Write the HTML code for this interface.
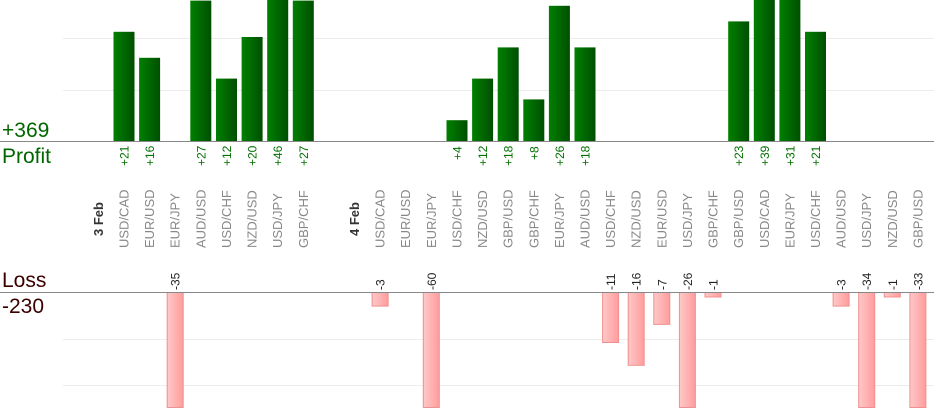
<!DOCTYPE html>
<html><head><meta charset="utf-8"><style>body{margin:0;background:#fff}svg{display:block}
.c{font-size:13px;fill:#888}.d{font-size:13px;font-weight:bold;fill:#333}.p{font-size:12px;fill:#007000}.l{font-size:12px;fill:#222}
</style></head><body>
<svg width="934" height="420" xmlns="http://www.w3.org/2000/svg" font-family="Liberation Sans, sans-serif">
<defs>
<linearGradient id="g" x1="0" x2="1"><stop offset="0" stop-color="#008000"/><stop offset="1" stop-color="#004f00"/></linearGradient>
<linearGradient id="r" x1="0" x2="1"><stop offset="0" stop-color="#ffc8c8"/><stop offset="1" stop-color="#ff9c9c"/></linearGradient>
</defs>
<g stroke="#ececec" stroke-width="1">
<line x1="63" y1="38.5" x2="934" y2="38.5"/><line x1="63" y1="90.5" x2="934" y2="90.5"/>
<line x1="63" y1="339.5" x2="934" y2="339.5"/><line x1="63" y1="385.5" x2="934" y2="385.5"/>
</g>
<g fill="url(#g)">
<rect x="113.5" y="31.8" width="21" height="109.2"/>
<rect x="139.1" y="57.8" width="21" height="83.2"/>
<rect x="190.3" y="0.6" width="21" height="140.4"/>
<rect x="216" y="78.6" width="21" height="62.4"/>
<rect x="241.6" y="37" width="21" height="104"/>
<rect x="267.2" y="0" width="21" height="141"/>
<rect x="292.8" y="0.6" width="21" height="140.4"/>
<rect x="446.5" y="120.2" width="21" height="20.8"/>
<rect x="472.1" y="78.6" width="21" height="62.4"/>
<rect x="497.7" y="47.4" width="21" height="93.6"/>
<rect x="523.3" y="99.4" width="21" height="41.6"/>
<rect x="548.9" y="5.8" width="21" height="135.2"/>
<rect x="574.5" y="47.4" width="21" height="93.6"/>
<rect x="728.2" y="21.4" width="21" height="119.6"/>
<rect x="753.8" y="0" width="21" height="141"/>
<rect x="779.4" y="0" width="21" height="141"/>
<rect x="805" y="31.8" width="21" height="109.2"/>
</g>
<g fill="url(#r)" stroke="#f09090">
<rect x="167.2" y="292.5" width="16" height="115"/>
<rect x="372.1" y="292.5" width="16" height="13.6"/>
<rect x="423.3" y="292.5" width="16" height="115"/>
<rect x="602.6" y="292.5" width="16" height="50"/>
<rect x="628.2" y="292.5" width="16" height="72.8"/>
<rect x="653.8" y="292.5" width="16" height="31.9"/>
<rect x="679.4" y="292.5" width="16" height="115"/>
<rect x="705" y="292.5" width="16" height="4.5"/>
<rect x="833.1" y="292.5" width="16" height="13.6"/>
<rect x="858.7" y="292.5" width="16" height="115"/>
<rect x="884.3" y="292.5" width="16" height="4.5"/>
<rect x="909.9" y="292.5" width="16" height="115"/>
</g>
<line x1="0" y1="141.5" x2="934" y2="141.5" stroke="#888"/>
<line x1="0" y1="292.5" x2="934" y2="292.5" stroke="#888"/>
<text x="2" y="137" font-size="21" fill="#006600">+369</text>
<text x="2" y="163" font-size="21" fill="#006600">Profit</text>
<text x="2" y="287" font-size="21" fill="#3a0000">Loss</text>
<text x="2" y="313" font-size="21" fill="#3a0000">-230</text>

<text class="d" transform="translate(102.9,236) rotate(-90)">3 Feb</text>
<text class="c" transform="translate(128.5,248) rotate(-90)">USD/CAD</text>
<text class="c" transform="translate(154.1,248) rotate(-90)">EUR/USD</text>
<text class="c" transform="translate(179.7,248) rotate(-90)">EUR/JPY</text>
<text class="c" transform="translate(205.3,248) rotate(-90)">AUD/USD</text>
<text class="c" transform="translate(231,248) rotate(-90)">USD/CHF</text>
<text class="c" transform="translate(256.6,248) rotate(-90)">NZD/USD</text>
<text class="c" transform="translate(282.2,248) rotate(-90)">USD/JPY</text>
<text class="c" transform="translate(307.8,248) rotate(-90)">GBP/CHF</text>
<text class="d" transform="translate(359,236) rotate(-90)">4 Feb</text>
<text class="c" transform="translate(384.6,248) rotate(-90)">USD/CAD</text>
<text class="c" transform="translate(410.2,248) rotate(-90)">EUR/USD</text>
<text class="c" transform="translate(435.8,248) rotate(-90)">EUR/JPY</text>
<text class="c" transform="translate(461.5,248) rotate(-90)">USD/CHF</text>
<text class="c" transform="translate(487.1,248) rotate(-90)">NZD/USD</text>
<text class="c" transform="translate(512.7,248) rotate(-90)">GBP/USD</text>
<text class="c" transform="translate(538.3,248) rotate(-90)">GBP/CHF</text>
<text class="c" transform="translate(563.9,248) rotate(-90)">EUR/JPY</text>
<text class="c" transform="translate(589.5,248) rotate(-90)">AUD/USD</text>
<text class="c" transform="translate(615.1,248) rotate(-90)">USD/CHF</text>
<text class="c" transform="translate(640.7,248) rotate(-90)">NZD/USD</text>
<text class="c" transform="translate(666.3,248) rotate(-90)">EUR/USD</text>
<text class="c" transform="translate(691.9,248) rotate(-90)">USD/JPY</text>
<text class="c" transform="translate(717.5,248) rotate(-90)">GBP/CHF</text>
<text class="c" transform="translate(743.2,248) rotate(-90)">GBP/USD</text>
<text class="c" transform="translate(768.8,248) rotate(-90)">USD/CAD</text>
<text class="c" transform="translate(794.4,248) rotate(-90)">EUR/JPY</text>
<text class="c" transform="translate(820,248) rotate(-90)">USD/CHF</text>
<text class="c" transform="translate(845.6,248) rotate(-90)">AUD/USD</text>
<text class="c" transform="translate(871.2,248) rotate(-90)">USD/JPY</text>
<text class="c" transform="translate(896.8,248) rotate(-90)">NZD/USD</text>
<text class="c" transform="translate(922.4,248) rotate(-90)">GBP/USD</text>

<text class="p" transform="translate(128.5,166) rotate(-90)">+21</text>
<text class="p" transform="translate(154.1,166) rotate(-90)">+16</text>
<text class="p" transform="translate(205.3,166) rotate(-90)">+27</text>
<text class="p" transform="translate(231,166) rotate(-90)">+12</text>
<text class="p" transform="translate(256.6,166) rotate(-90)">+20</text>
<text class="p" transform="translate(282.2,166) rotate(-90)">+46</text>
<text class="p" transform="translate(307.8,166) rotate(-90)">+27</text>
<text class="p" transform="translate(461.5,160) rotate(-90)">+4</text>
<text class="p" transform="translate(487.1,166) rotate(-90)">+12</text>
<text class="p" transform="translate(512.7,166) rotate(-90)">+18</text>
<text class="p" transform="translate(538.3,160) rotate(-90)">+8</text>
<text class="p" transform="translate(563.9,166) rotate(-90)">+26</text>
<text class="p" transform="translate(589.5,166) rotate(-90)">+18</text>
<text class="p" transform="translate(743.2,166) rotate(-90)">+23</text>
<text class="p" transform="translate(768.8,166) rotate(-90)">+39</text>
<text class="p" transform="translate(794.4,166) rotate(-90)">+31</text>
<text class="p" transform="translate(820,166) rotate(-90)">+21</text>

<text class="l" transform="translate(179.7,290) rotate(-90)">-35</text>
<text class="l" transform="translate(384.6,290) rotate(-90)">-3</text>
<text class="l" transform="translate(435.8,290) rotate(-90)">-60</text>
<text class="l" transform="translate(615.1,290) rotate(-90)">-11</text>
<text class="l" transform="translate(640.7,290) rotate(-90)">-16</text>
<text class="l" transform="translate(666.3,290) rotate(-90)">-7</text>
<text class="l" transform="translate(691.9,290) rotate(-90)">-26</text>
<text class="l" transform="translate(717.5,290) rotate(-90)">-1</text>
<text class="l" transform="translate(845.6,290) rotate(-90)">-3</text>
<text class="l" transform="translate(871.2,290) rotate(-90)">-34</text>
<text class="l" transform="translate(896.8,290) rotate(-90)">-1</text>
<text class="l" transform="translate(922.4,290) rotate(-90)">-33</text>
</svg>
</body></html>
